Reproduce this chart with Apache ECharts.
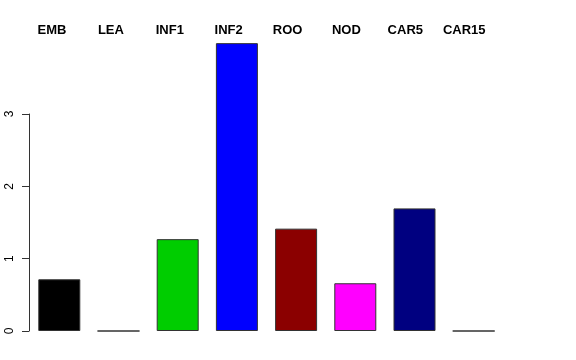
<!DOCTYPE html>
<html>
<head>
<meta charset="utf-8">
<script src="https://cdn.jsdelivr.net/npm/echarts@6/dist/echarts.min.js"></script>
<style>html,body{margin:0;padding:0;background:#fff;}#c{width:576px;height:360px;}</style>
</head>
<body>
<div id="c"></div>
<script>
var categories = ['EMB', 'LEA', 'INF1', 'INF2', 'ROO', 'NOD', 'CAR5', 'CAR15'];
var values = [0.715, 0, 1.27, 3.98, 1.415, 0.66, 1.695, 0];
var barColors = ['#000000', '#FF0000', '#00CD00', '#0000FF', '#8B0000', '#FF00FF', '#000080', '#FFA500'];
var yTicks = [0, 1, 2, 3];

var chart = echarts.init(document.getElementById('c'), null, {renderer: 'canvas'});
var FONT = '"Liberation Sans", Arial, sans-serif';
chart.setOption({
  animation: false,
  backgroundColor: '#ffffff',
  grid: [
    {left: 29.7, width: 473.6, top: 331 - 4 * 72.33, bottom: 29},
    {left: 29, width: 10, top: 114, bottom: 29},
    {left: 52, width: 412.2, top: 30, height: 10}
  ],
  xAxis: [
    {type: 'category', gridIndex: 0, data: categories, show: false},
    {type: 'value', gridIndex: 1, show: false},
    {type: 'category', gridIndex: 2, data: categories, position: 'top', boundaryGap: false,
     axisLine: {show: false}, axisTick: {show: false},
     axisLabel: {interval: 0, align: 'center', verticalAlign: 'middle', margin: 0,
       fontFamily: FONT, fontWeight: 'bold', fontSize: 13, color: '#000'}}
  ],
  yAxis: [
    {type: 'value', gridIndex: 0, min: 0, max: 4, show: false},
    {type: 'value', gridIndex: 1, min: yTicks[0], max: yTicks[yTicks.length - 1], interval: 1,
     axisLine: {show: true, lineStyle: {color: '#333', width: 1}},
     axisTick: {show: true, length: 7, lineStyle: {color: '#333'}},
     splitLine: {show: false},
     axisLabel: {rotate: 90, margin: 13, fontFamily: FONT, fontSize: 12, color: '#000'}},
    {type: 'value', gridIndex: 2, show: false}
  ],
  series: [{
    type: 'bar',
    xAxisIndex: 0, yAxisIndex: 0,
    barWidth: 42,
    data: values.map(function (v, i) {
      return {value: v, itemStyle: {color: barColors[i]}};
    }),
    itemStyle: {borderColor: '#333', borderWidth: 1}
  }]
});
</script>
</body>
</html>
